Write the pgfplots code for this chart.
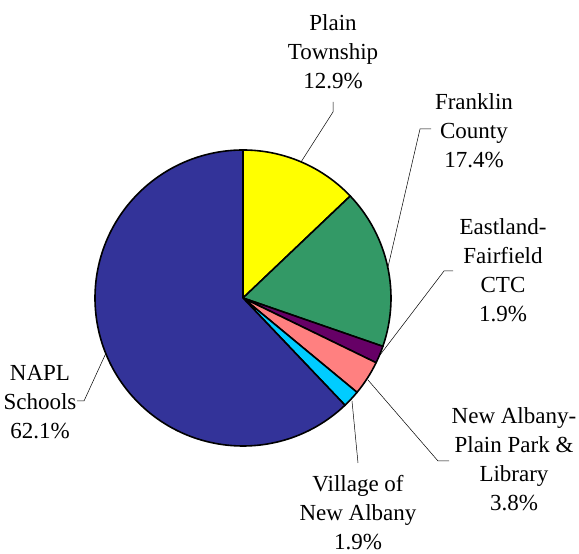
\documentclass[border=0pt]{standalone}
\usepackage{pgfplots}
\usepackage{pgfplotstable}
\pgfplotsset{compat=1.18}
\usepackage{fontspec}
\setmainfont{Liberation Serif}

\definecolor{cPlain}{HTML}{FFFF00}
\definecolor{cFrank}{HTML}{339966}
\definecolor{cEast}{HTML}{660066}
\definecolor{cPark}{HTML}{FF8080}
\definecolor{cVill}{HTML}{00CCFF}
\definecolor{cNapl}{HTML}{333399}

\tikzset{lbl/.style={font=\fontsize{23}{29}\selectfont, align=center, inner sep=0pt, anchor=north}}

% shares in %, clockwise from 12 o'clock
\pgfplotstableread{
share col
12.9  cPlain
17.4  cFrank
1.9   cEast
3.8   cPark
1.9   cVill
62.1  cNapl
}\pietable

\begin{document}
\begin{tikzpicture}
\begin{axis}[
    hide axis, scale only axis,
    width=579pt, height=554pt,
    xmin=0, xmax=579, ymin=0, ymax=554,
    clip=false,
]
\pgfplotsextra{
  \xdef\start{90}
  \pgfplotstableforeachcolumnelement{share}\of\pietable\as\val{
    \pgfmathsetmacro\stop{\start-3.6*\val}
    \pgfplotstablegetelem{\pgfplotstablerow}{col}\of\pietable
    \filldraw[fill=\pgfplotsretval, draw=black, line width=1.6pt, line join=round]
      (axis cs:243,256) -- ++(\start:148pt)
      arc[start angle=\start, end angle=\stop, radius=148pt] -- cycle;
    \global\let\start\stop
  }
}
% leader lines
\addplot[black, line width=0.5pt] coordinates {(333,452) (333,442) (301,392)};
\addplot[black, line width=0.5pt] coordinates {(431,425) (420,425) (388,287)};
\addplot[black, line width=0.5pt] coordinates {(453,283) (444,283) (380,199)};
\addplot[black, line width=0.5pt] coordinates {(368,174) (438,93) (449,93)};
\addplot[black, line width=0.5pt] coordinates {(352,153) (358,91)};
\addplot[black, line width=0.5pt] coordinates {(77,153) (84,153) (106,201)};
% labels
\node[lbl] at (axis cs:333,540) {Plain\\Township\\12.9\%};
\node[lbl] at (axis cs:474,461) {Franklin\\County\\17.4\%};
\node[lbl] at (axis cs:503,336) {Eastland-\\Fairfield\\CTC\\1.9\%};
\node[lbl] at (axis cs:514,147) {New Albany-\\Plain Park \&\\Library\\3.8\%};
\node[lbl] at (axis cs:358,79) {Village of\\New Albany\\1.9\%};
\node[lbl] at (axis cs:40,189) {NAPL\\Schools\\62.1\%};
\end{axis}
\pgfresetboundingbox
\path (current axis.south west) rectangle (current axis.north east);
\end{tikzpicture}
\end{document}
